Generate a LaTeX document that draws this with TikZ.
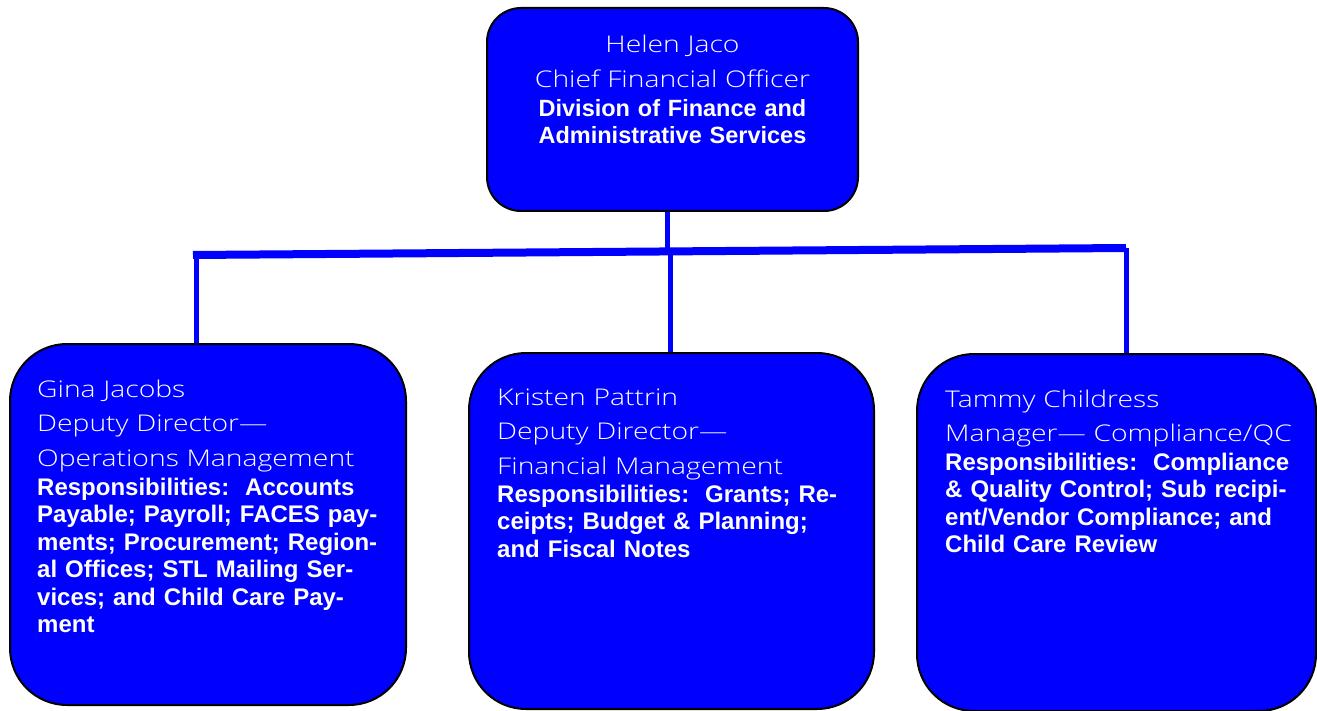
\documentclass[tikz,border=0pt]{standalone}
\usepackage{fontspec}
\setmainfont{Liberation Sans}
\newfontfamily\lightfont[FakeStretch=1.23]{Open Sans Light}
\definecolor{orgblue}{RGB}{0,0,255}
\tikzset{
    % blue boxes
    orgbox/.style={
        draw=black,
        line width=2pt,
        fill=orgblue,
        inner sep=0pt
    },
    headbox/.style={orgbox, rounded corners=34pt, minimum width=371pt, minimum height=203pt},
    unitbox/.style={orgbox, rounded corners=57pt},
    % white text
    nametext/.style={
        white,
        anchor=base west,
        inner sep=0pt,
        text width=370pt,
        align=left,
        font=\lightfont\fontsize{23}{34.5}\selectfont
    },
    resptext/.style={
        white,
        anchor=base west,
        inner sep=0pt,
        text width=360pt,
        align=left,
        font=\bfseries\fontsize{24}{27.5}\selectfont
    },
    % connectors
    linkline/.style={orgblue, line width=5pt},
    barline/.style={orgblue, line width=8pt}
}

\begin{document}
\begin{tikzpicture}[x=1pt,y=-1pt]
	\useasboundingbox (0,0) rectangle (1317,711);
	
	% boxes
	\node[headbox] (cfo) at (672.5,109.5) {};
	\node[unitbox, minimum width=396pt, minimum height=361pt] (gina) at (208,524.5) {};
	\node[unitbox, minimum width=405pt, minimum height=356pt] (kristen) at (671.5,531) {};
	\node[unitbox, minimum width=399pt, minimum height=357pt] (tammy) at (1116.5,532.5) {};
	
	\path 
	(667,249) coordinate (hub)
	(193,255) coordinate (barL)
	(1126,248) coordinate (barR)
	(196.5,252) coordinate (dropA)
	(670.5,250) coordinate (dropB)
	(1126.5,248) coordinate (dropC);
	
	% lines
	\draw[linkline] (hub |- cfo.south) -- (hub);
	\draw[barline] (barL) -- (barR);
	\draw[linkline] (dropA) -- (dropA |- gina.north);
	\draw[linkline] (dropB) -- (dropB |- kristen.north);
	\draw[linkline] (dropC) -- (dropC |- tammy.north);
	
	% top box text
	\node[nametext, anchor=base, align=center] (cfo-name) at (672.5,53) {Helen Jaco\\Chief Financial Officer};
	\node[resptext, anchor=base, align=center, font=\bfseries\fontsize{23.5}{27}\selectfont] (cfo-div) at (672.5,117) {Division of Finance and\\Administrative Services};
	
	% left box
	\node[nametext] (gina-name) at (37,397) {Gina Jacobs\\Deputy Director—\\Operations Management};
	\node[resptext] (gina-resp) at (37,495) {Responsibilities:\ \ Accounts\\Payable; Payroll; FACES pay-\\ments; Procurement; Region-\\al Offices; STL Mailing Ser-\\vices; and Child Care Pay-\\ment};
	
	% middle box
	\node[nametext] (kristen-name) at (497,405) {Kristen Pattrin\\Deputy Director—\\Financial Management};
	\node[resptext] (kristen-resp) at (497,502) {Responsibilities:\ \ Grants; Re-\\ceipts; Budget \& Planning;\\and Fiscal Notes};
	
	% right box
	\node[nametext] (tammy-name) at (945,407) {Tammy Childress\\Manager— Compliance/QC};
	\node[resptext] (tammy-resp) at (945,470) {Responsibilities:\ \ Compliance\\\& Quality Control; Sub recipi-\\ent/Vendor Compliance; and\\Child Care Review};
\end{tikzpicture}
\end{document}
